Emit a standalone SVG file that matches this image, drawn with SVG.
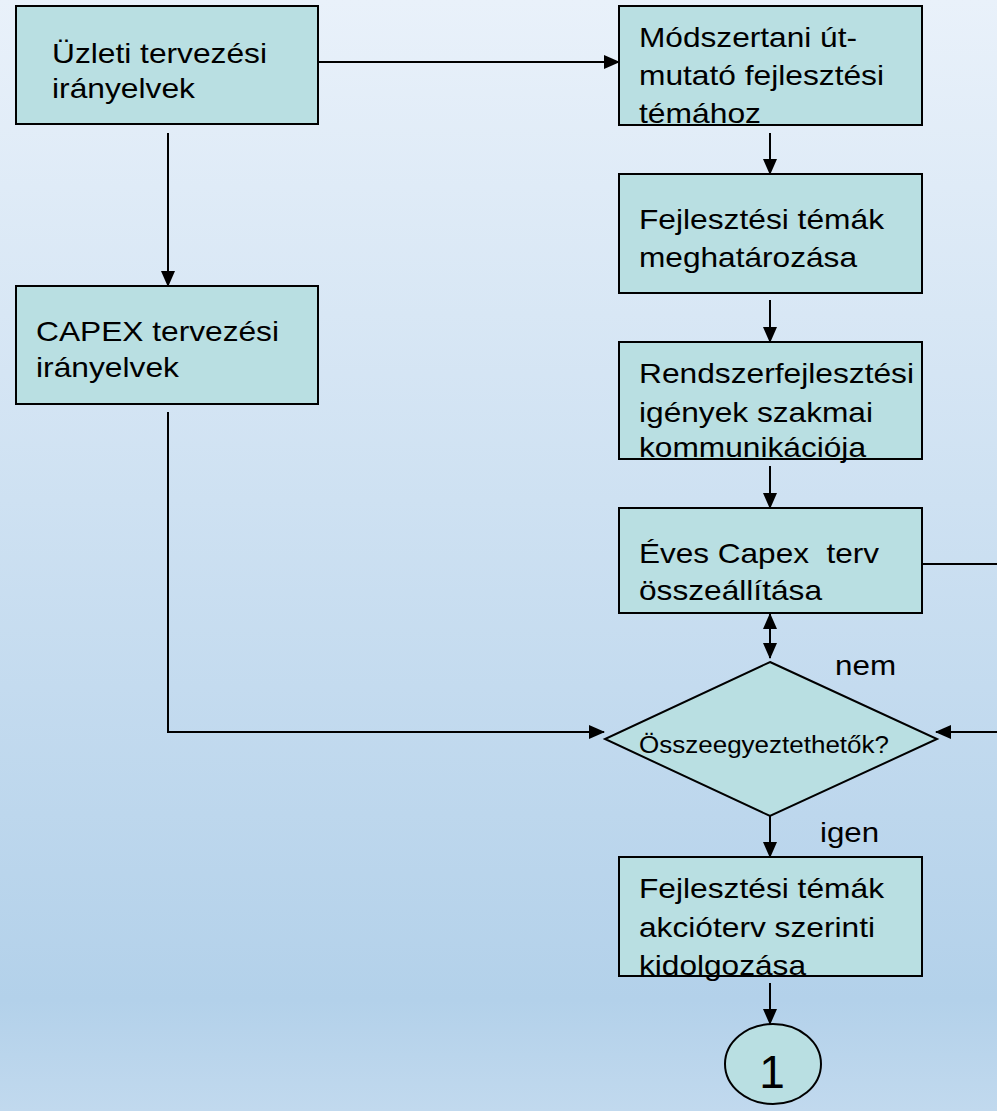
<svg xmlns="http://www.w3.org/2000/svg" width="997" height="1111" viewBox="0 0 997 1111">
<style>
.box{fill:#B9DFE2;stroke:#000;stroke-width:2}
.t{font-family:"Liberation Sans",Arial,sans-serif;font-size:28px;fill:#000}
.c{fill:none;stroke:#000;stroke-width:2}
</style>
<defs>
<linearGradient id="bg" x1="0" y1="0" x2="0" y2="1">
<stop offset="0" stop-color="#E9F1FA"/>
<stop offset="0.9" stop-color="#B3D1EA"/>
<stop offset="1" stop-color="#C1D9EE"/>
</linearGradient>
<marker id="ah" markerUnits="userSpaceOnUse" markerWidth="16" markerHeight="14" refX="15" refY="7" orient="auto-start-reverse" viewBox="0 0 16 14">
<path d="M0,0 L16,7 L0,14 Z" fill="#000"/>
</marker>
</defs>
<rect x="0" y="0" width="997" height="1111" fill="url(#bg)"/>

<g id="connectors">
<path class="c" d="M318,62 H619" marker-end="url(#ah)"/>
<path class="c" d="M168,133 V286" marker-end="url(#ah)"/>
<path class="c" d="M168,412 V732 H604" marker-end="url(#ah)"/>
<path class="c" d="M770,133 V174" marker-end="url(#ah)"/>
<path class="c" d="M770,300 V342" marker-end="url(#ah)"/>
<path class="c" d="M770,466 V508" marker-end="url(#ah)"/>
<path class="c" d="M770,614 V658" marker-start="url(#ah)" marker-end="url(#ah)"/>
<path class="c" d="M922,564 H1000 V732 H936" marker-end="url(#ah)"/>
<path class="c" d="M770,816 V857" marker-end="url(#ah)"/>
<path class="c" d="M770,983 V1024" marker-end="url(#ah)"/>
</g>

<g id="n-uzleti">
<rect class="box" x="16" y="6" width="302" height="118"/>
<text class="t" x="52" y="63" textLength="215" lengthAdjust="spacingAndGlyphs">Üzleti tervezési</text>
<text class="t" x="52" y="98" textLength="143" lengthAdjust="spacingAndGlyphs">irányelvek</text>
</g>

<g id="n-capex">
<rect class="box" x="16" y="286" width="302" height="118"/>
<text class="t" x="36" y="341" textLength="243" lengthAdjust="spacingAndGlyphs">CAPEX tervezési</text>
<text class="t" x="36" y="377" textLength="143" lengthAdjust="spacingAndGlyphs">irányelvek</text>
</g>

<g id="n-modszertani">
<rect class="box" x="619" y="6" width="303" height="119"/>
<text class="t" x="639" y="47" textLength="218" lengthAdjust="spacingAndGlyphs">Módszertani út-</text>
<text class="t" x="639" y="85" textLength="245" lengthAdjust="spacingAndGlyphs">mutató fejlesztési</text>
<text class="t" x="639" y="123" textLength="122" lengthAdjust="spacingAndGlyphs">témához</text>
</g>

<g id="n-temak">
<rect class="box" x="619" y="174" width="303" height="119"/>
<text class="t" x="639" y="229" textLength="245" lengthAdjust="spacingAndGlyphs">Fejlesztési témák</text>
<text class="t" x="639" y="267" textLength="218" lengthAdjust="spacingAndGlyphs">meghatározása</text>
</g>

<g id="n-rendszer">
<rect class="box" x="619" y="342" width="303" height="117"/>
<text class="t" x="639" y="383" textLength="275" lengthAdjust="spacingAndGlyphs">Rendszerfejlesztési</text>
<text class="t" x="639" y="422" textLength="234" lengthAdjust="spacingAndGlyphs">igények szakmai</text>
<text class="t" x="639" y="457" textLength="227" lengthAdjust="spacingAndGlyphs">kommunikációja</text>
</g>

<g id="n-eves">
<rect class="box" x="619" y="508" width="303" height="105"/>
<text class="t" x="639" y="563" textLength="240" lengthAdjust="spacingAndGlyphs" style="white-space:pre">Éves Capex  terv</text>
<text class="t" x="639" y="600" textLength="183" lengthAdjust="spacingAndGlyphs">összeállítása</text>
</g>

<g id="n-dontes">
<polygon class="box" points="770,662 937,739 770,816 605,739"/>
<text class="t" x="639" y="753" style="font-size:23px" textLength="250" lengthAdjust="spacingAndGlyphs">Összeegyeztethetők?</text>
</g>

<g id="l-nem">
<text class="t" x="835" y="675" textLength="61" lengthAdjust="spacingAndGlyphs">nem</text>
</g>
<g id="l-igen">
<text class="t" x="820" y="842" textLength="59" lengthAdjust="spacingAndGlyphs">igen</text>
</g>

<g id="n-kidolgozas">
<rect class="box" x="619" y="857" width="303" height="119"/>
<text class="t" x="639" y="898" textLength="245" lengthAdjust="spacingAndGlyphs">Fejlesztési témák</text>
<text class="t" x="639" y="937" textLength="236" lengthAdjust="spacingAndGlyphs">akcióterv szerinti</text>
<text class="t" x="639" y="975" textLength="167" lengthAdjust="spacingAndGlyphs">kidolgozása</text>
</g>

<g id="n-1">
<ellipse class="box" cx="773" cy="1064" rx="48" ry="40"/>
<text class="t" x="772" y="1088" text-anchor="middle" style="font-size:46px">1</text>
</g>
</svg>
